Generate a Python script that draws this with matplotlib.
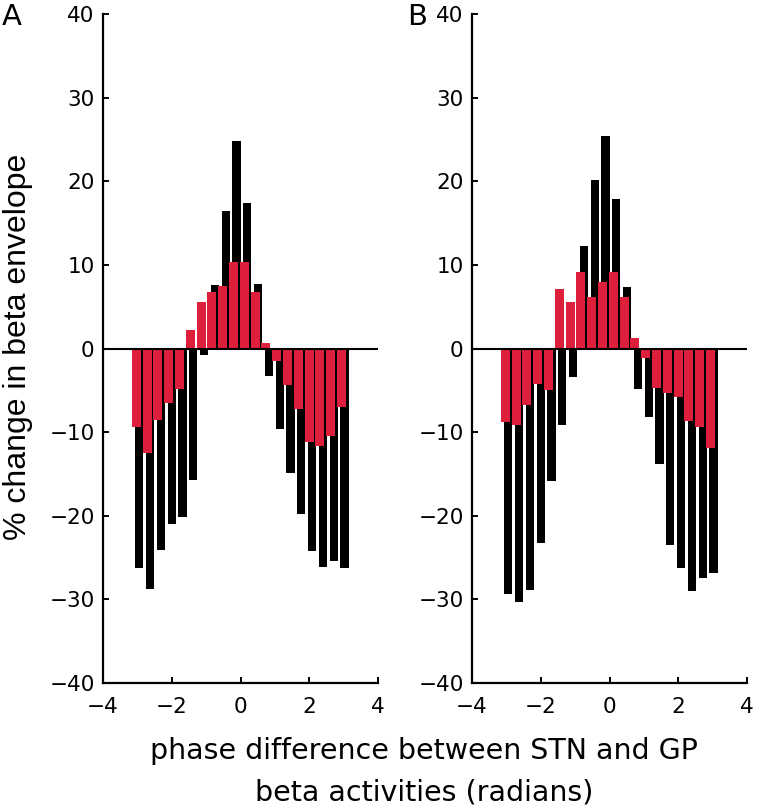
import numpy as np
import matplotlib
matplotlib.use('Agg')
import matplotlib.pyplot as plt

# phase bins (20 bins from -pi to pi)
edges = np.linspace(-np.pi, np.pi, 21)
phase = (edges[:-1] + edges[1:]) / 2

# panel A
black_a = [-26.3, -28.8, -24.1, -21.0, -20.2, -15.7, -0.8, 7.6, 16.5, 24.8,
           17.4, 7.7, -3.3, -9.6, -14.9, -19.8, -24.2, -26.1, -25.4, -26.3]
red_a = [-9.4, -12.5, -8.6, -6.5, -4.9, 2.2, 5.6, 6.8, 7.5, 10.4,
         10.4, 6.8, 0.6, -1.5, -4.4, -7.2, -11.2, -11.6, -10.5, -7.0]

# panel B
black_b = [-29.3, -30.3, -28.9, -23.3, -15.8, -9.2, -3.4, 12.2, 20.1, 25.4,
           17.9, 7.3, -4.9, -8.2, -13.8, -23.5, -26.3, -29.0, -27.4, -26.9]
red_b = [-8.8, -9.2, -6.8, -4.2, -5.0, 7.1, 5.6, 9.2, 6.1, 8.0,
         9.1, 6.2, 1.3, -1.1, -4.7, -5.3, -5.8, -8.7, -9.4, -11.9]

panels = [('A', black_a, red_a), ('B', black_b, red_b)]
red = '#de1f3c'

fig = plt.figure(figsize=(7.6, 8.09), dpi=100)
lefts = [103 / 760, 472 / 760]

for (name, blk, rd), left in zip(panels, lefts):
    ax = fig.add_axes([left, 1 - 683 / 809, 275 / 760, 669 / 809])
    ax.bar(phase + 0.04, blk, width=0.24, color='black', linewidth=0)
    ax.bar(phase - 0.045, rd, width=0.26, color=red, linewidth=0)
    ax.axhline(0, color='black', lw=1.5)
    ax.set_xlim(-4, 4)
    ax.set_ylim(-40, 40)
    ax.set_xticks([-4, -2, 0, 2, 4])
    ax.set_yticks(range(-40, 41, 10))
    for s in ['top', 'right']:
        ax.spines[s].set_visible(False)
    for s in ['left', 'bottom']:
        ax.spines[s].set_linewidth(1.6)
    ax.tick_params(direction='in', length=4.5, width=1.4, labelsize=15.5)
    ax.tick_params(axis='x', pad=10)
    ax.tick_params(axis='y', pad=6)
    fig.text(left - (101 if name == 'A' else 65) / 760, 1 - 3 / 809, name,
             fontsize=21, ha='left', va='top')

fig.text(18 / 760, 1 - 347 / 809, '% change in beta envelope', rotation=90,
         ha='center', va='center', fontsize=23, family='Liberation Sans')
fig.text(424 / 760, 1 - 751 / 809, 'phase difference between STN and GP',
         ha='center', va='center', fontsize=20.5)
fig.text(424 / 760, 1 - 793 / 809, 'beta activities (radians)',
         ha='center', va='center', fontsize=20.5)

plt.savefig('out.png', dpi=100)
